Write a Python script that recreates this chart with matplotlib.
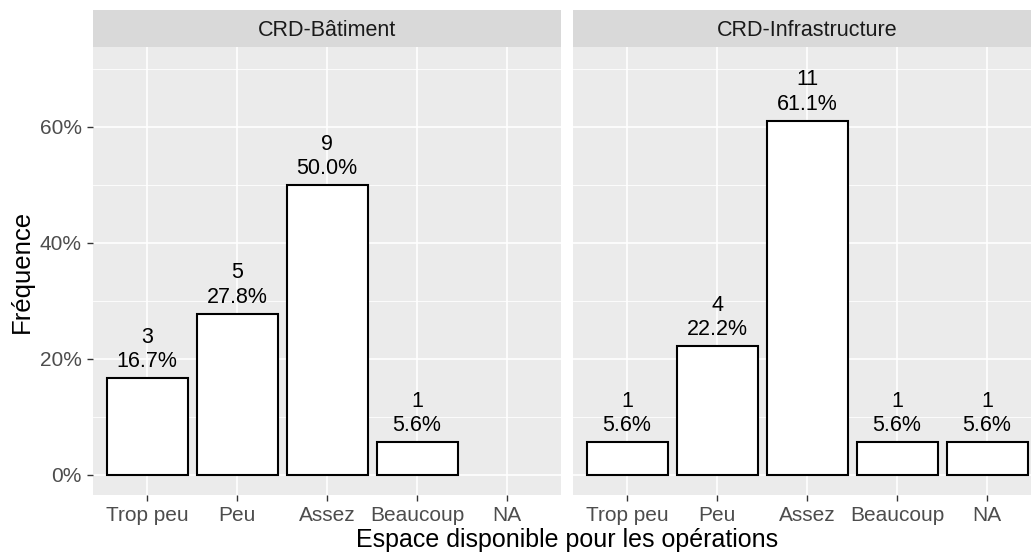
import matplotlib
matplotlib.use("Agg")
import matplotlib.pyplot as plt
import numpy as np

plt.rcParams["font.family"] = ["Liberation Sans", "DejaVu Sans"]

categories = ["Trop peu", "Peu", "Assez", "Beaucoup", "NA"]
panels = ["CRD-Bâtiment", "CRD-Infrastructure"]
counts_bat = [3, 5, 9, 1, 0]
pct_bat = [16.7, 27.8, 50.0, 5.6, 0.0]
counts_inf = [1, 4, 11, 1, 1]
pct_inf = [5.6, 22.2, 61.1, 5.6, 5.6]
yticks = [0, 20, 40, 60]
ytick_labels = ["0%", "20%", "40%", "60%"]

W, H = 1031, 553
fig = plt.figure(figsize=(W / 100, H / 100), dpi=100)

def fx(px):
    return px / W

def fy(py):
    return 1 - py / H

panel_w = 468
lefts = [93, 573]
top_strip, bot_strip, bot_panel = 10, 47, 495

data = [(counts_bat, pct_bat), (counts_inf, pct_inf)]
x = np.arange(1, len(categories) + 1)

for i, (name, (cnt, pct)) in enumerate(zip(panels, data)):
    l = lefts[i]
    ax = fig.add_axes([fx(l), fy(bot_panel), fx(panel_w), (bot_panel - bot_strip) / H])
    ax.set_facecolor("#EBEBEB")
    ax.set_xlim(0.4, 5.6)
    ax.set_ylim(-3.52, 73.8)
    for s in ax.spines.values():
        s.set_visible(False)
    for yv in [10, 30, 50, 70]:
        ax.axhline(yv, color="white", lw=0.6, zorder=0)
    for yv in yticks:
        ax.axhline(yv, color="white", lw=1.2, zorder=0)
    for xv in x:
        ax.axvline(xv, color="white", lw=1.2, zorder=0)
    for xi, c, p in zip(x, cnt, pct):
        if c > 0:
            ax.bar(xi, p, width=0.9, color="white", edgecolor="black", linewidth=1.5, zorder=2)
            ax.text(xi, p + 1.9, f"{c}\n{p:.1f}%", ha="center", va="baseline",
                    fontsize=15.5, linespacing=1.2, zorder=3)
    ax.set_xticks(x)
    ax.set_xticklabels(categories, fontsize=15, color="#4D4D4D")
    ax.tick_params(axis="both", length=4, color="#333333", width=1, pad=4)
    if i == 0:
        ax.set_yticks(yticks)
        ax.set_yticklabels(ytick_labels, fontsize=15, color="#4D4D4D")
        ax.set_ylabel("Fréquence", fontsize=18.5, labelpad=4)
    else:
        ax.set_yticks([])
    # strip
    sax = fig.add_axes([fx(l), fy(bot_strip), fx(panel_w), (bot_strip - top_strip) / H])
    sax.set_facecolor("#D9D9D9")
    sax.set_xticks([]); sax.set_yticks([])
    for s in sax.spines.values():
        s.set_visible(False)
    sax.text(0.5, 0.44, name, ha="center", va="center",
             fontsize=15.5, color="#1A1A1A", transform=sax.transAxes)

fig.text(fx(567), fy(540), "Espace disponible pour les opérations", ha="center", va="center", fontsize=18)

fig.savefig("out.png", dpi=100)
